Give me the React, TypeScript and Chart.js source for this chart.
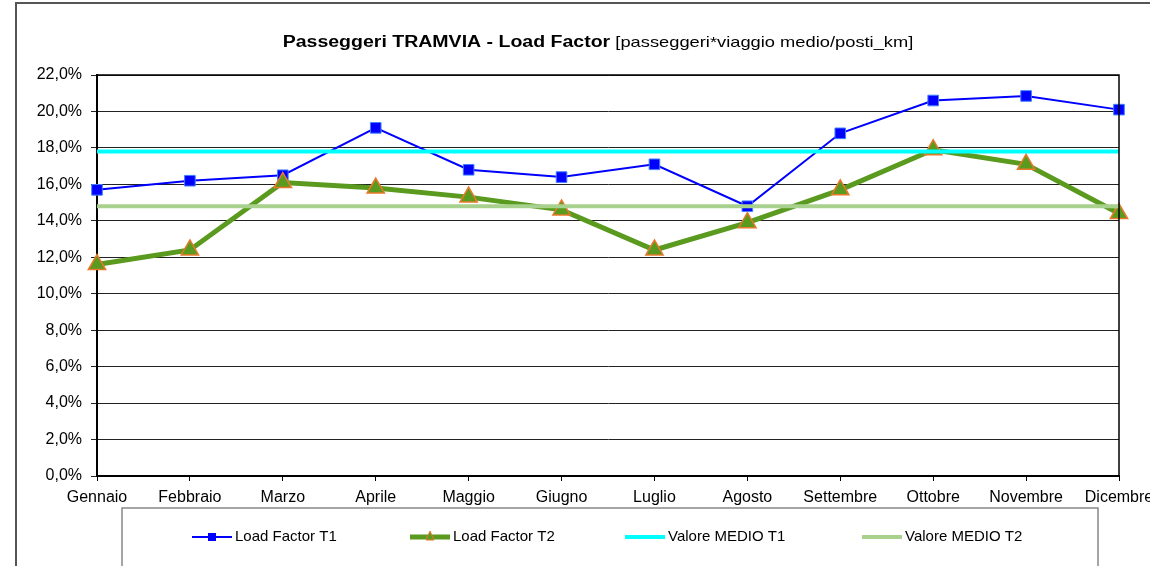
import React, { useEffect, useRef } from "react";
import { Chart, registerables } from "chart.js";

Chart.register(...registerables);

const months = ["Gennaio", "Febbraio", "Marzo", "Aprile", "Maggio", "Giugno", "Luglio", "Agosto", "Settembre", "Ottobre", "Novembre", "Dicembre"];
const loadFactorT1 = [15.7, 16.2, 16.5, 19.1, 16.8, 16.4, 17.1, 14.8, 18.8, 20.6, 20.85, 20.1];
const loadFactorT2 = [11.6, 12.4, 16.1, 15.8, 15.3, 14.6, 12.4, 13.9, 15.7, 17.9, 17.1, 14.4];
const medioT1 = 17.8;
const medioT2 = 14.8;
const titleBold = "Passeggeri TRAMVIA - Load Factor";
const titleNormal = " [passeggeri*viaggio medio/posti_km]";
const FONT = "'Liberation Sans', Arial, sans-serif";

const framePlugin = {
  id: "frame",
  beforeDraw(chart: any) {
    const ctx = chart.ctx;
    ctx.save();
    ctx.fillStyle = "#fff";
    ctx.fillRect(0, 0, chart.width, chart.height);
    ctx.strokeStyle = "#555";
    ctx.lineWidth = 2;
    ctx.beginPath();
    ctx.moveTo(16, chart.height + 5);
    ctx.lineTo(16, 3);
    ctx.lineTo(chart.width + 5, 3);
    ctx.stroke();
    ctx.restore();
  },
  afterDraw(chart: any) {
    const ctx = chart.ctx;
    const a = chart.chartArea;
    ctx.save();
    ctx.strokeStyle = "#000";
    ctx.lineWidth = 1.5;
    ctx.beginPath();
    ctx.moveTo(a.left, a.top);
    ctx.lineTo(a.right, a.top);
    ctx.lineTo(a.right, a.bottom);
    ctx.stroke();
    // title (horizontally widened like the original)
    ctx.fillStyle = "#000";
    ctx.textBaseline = "alphabetic";
    const sx = 1.22;
    ctx.font = "bold 16px " + FONT;
    const w1 = ctx.measureText(titleBold).width;
    ctx.font = "15px " + FONT;
    const w2 = ctx.measureText(titleNormal).width;
    const total = (w1 + w2) * sx;
    const x0 = 598 - total / 2;
    ctx.save();
    ctx.translate(x0, 47);
    ctx.scale(sx, 1);
    ctx.font = "bold 16px " + FONT;
    ctx.fillText(titleBold, 0, 0);
    ctx.font = "15px " + FONT;
    ctx.fillText(titleNormal, w1, 0);
    ctx.restore();
    // legend box
    ctx.strokeStyle = "#888";
    ctx.lineWidth = 1.5;
    ctx.beginPath();
    ctx.moveTo(122, chart.height + 5);
    ctx.lineTo(122, 508);
    ctx.lineTo(1098, 508);
    ctx.lineTo(1098, chart.height + 5);
    ctx.stroke();
    const starts = [192, 410, 625, 862];
    const ly = 537;
    chart.data.datasets.forEach((ds: any, i: number) => {
      const lx = starts[i];
      ctx.strokeStyle = ds.borderColor;
      ctx.lineWidth = ds.borderWidth;
      ctx.beginPath();
      ctx.moveTo(lx, ly);
      ctx.lineTo(lx + 40, ly);
      ctx.stroke();
      if (ds.pointRadius > 0) {
        ctx.fillStyle = ds.pointBackgroundColor;
        ctx.strokeStyle = ds.pointBorderColor;
        ctx.lineWidth = 1;
        if (ds.pointStyle === "rect") {
          ctx.fillRect(lx + 16, ly - 4, 8, 8);
        } else {
          ctx.beginPath();
          ctx.moveTo(lx + 20, ly - 6);
          ctx.lineTo(lx + 24, ly + 3);
          ctx.lineTo(lx + 16, ly + 3);
          ctx.closePath();
          ctx.fill();
          ctx.stroke();
        }
      }
      ctx.fillStyle = "#000";
      ctx.font = "15px " + FONT;
      ctx.textBaseline = "middle";
      ctx.fillText(ds.label, lx + 43, ly);
    });
    ctx.restore();
  },
};

export default function App() {
  const ref = useRef<HTMLCanvasElement>(null);
  useEffect(() => {
    if (!ref.current) return;
    const chart = new Chart(ref.current, {
      type: "line",
      data: {
        labels: months,
        datasets: [
          {
            label: "Load Factor T1",
            data: loadFactorT1,
            borderColor: "#0000ff",
            borderWidth: 2,
            pointStyle: "rect",
            pointRadius: 7.5,
            pointBackgroundColor: "#0000ff",
            pointBorderColor: "#3f7fff",
            pointBorderWidth: 1,
            order: 4,
          },
          {
            label: "Load Factor T2",
            data: loadFactorT2,
            borderColor: "#5a9a1e",
            borderWidth: 5,
            pointStyle: "triangle",
            pointRadius: 10,
            pointBackgroundColor: "#5a9a1e",
            pointBorderColor: "#e8792a",
            pointBorderWidth: 1.5,
            order: 3,
          },
          {
            label: "Valore MEDIO T1",
            data: months.map(() => medioT1),
            borderColor: "#00ffff",
            borderWidth: 4,
            pointRadius: 0,
            order: 2,
          },
          {
            label: "Valore MEDIO T2",
            data: months.map(() => medioT2),
            borderColor: "#a9d18e",
            borderWidth: 4,
            pointRadius: 0,
            order: 1,
          },
        ],
      },
      options: {
        responsive: false,
        animation: false,
        layout: { padding: { left: 0, top: 75, right: 31, bottom: 60 } },
        plugins: { legend: { display: false }, title: { display: false }, tooltip: { enabled: false } },
        scales: {
          x: {
            offset: false,
            afterFit: (s: any) => { s.height = 30; s.paddingLeft = 0; s.paddingRight = 0; },
            grid: { display: true, drawOnChartArea: false, drawTicks: true, tickLength: 5, color: "#000" },
            border: { color: "#000", width: 2 },
            ticks: { color: "#000", font: { family: FONT, size: 16 }, padding: 7, maxRotation: 0, autoSkip: false },
          },
          y: {
            min: 0,
            max: 22,
            afterFit: (s: any) => { s.width = 97; },
            grid: { color: "#222", lineWidth: 1, tickLength: 6 },
            border: { color: "#000", width: 2 },
            ticks: {
              stepSize: 2,
              color: "#000",
              padding: 9,
              font: { family: FONT, size: 16 },
              callback: (v: any) => Number(v).toFixed(1).replace(".", ",") + "%",
            },
          },
        },
      },
      plugins: [framePlugin],
    });
    return () => chart.destroy();
  }, []);
  return (
    <div style={{ position: "fixed", left: 0, top: 0, width: 1150, height: 566, background: "#fff" }}>
      <canvas ref={ref} width={1150} height={566} style={{ width: 1150, height: 566, display: "block" }} />
    </div>
  );
}
